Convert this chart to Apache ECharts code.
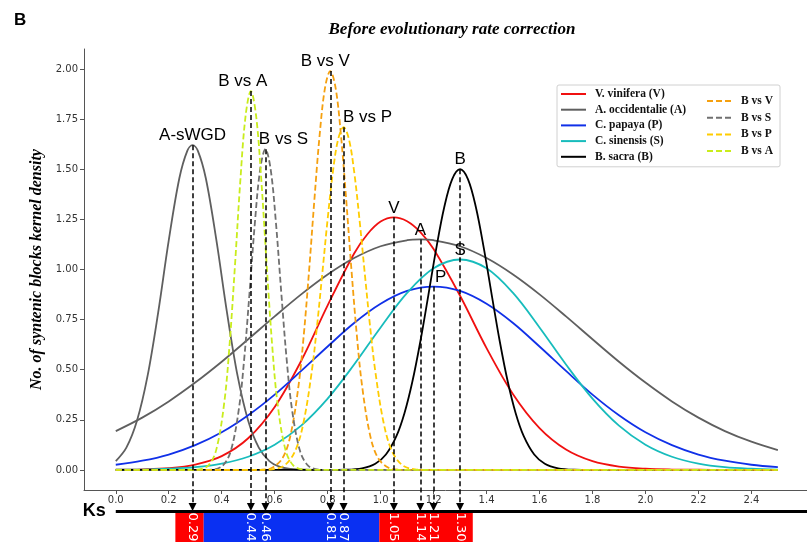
<!DOCTYPE html>
<html>
<head>
<meta charset="utf-8">
<script src="https://cdn.jsdelivr.net/npm/echarts@6/dist/echarts.min.js"></script>
<style>
    html, body { margin: 0; padding: 0; background: #fff; }
    #chart { width: 807px; height: 542px; }
</style>
</head>
<body>
<div id="chart"></div>
<script>

// ===== DATA =====
const xTicks = [0, 0.2, 0.4, 0.6, 0.8, 1.0, 1.2, 1.4, 1.6, 1.8, 2.0, 2.2, 2.4];
const yTicks = [0, 0.25, 0.5, 0.75, 1.0, 1.25, 1.5, 1.75, 2.0];

const vinifera = [[0,0.001],[0.1,0.003],[0.2,0.009],[0.3,0.027],[0.4,0.069],[0.5,0.158],[0.6,0.314],[0.7,0.544],[0.8,0.821],[0.9,1.080],[0.95,1.176],[1.0,1.239],[1.05,1.26],[1.1,1.241],[1.15,1.187],[1.2,1.102],[1.3,0.869],[1.4,0.608],[1.5,0.378],[1.6,0.209],[1.7,0.102],[1.8,0.044],[1.9,0.017],[2.0,0.006],[2.1,0.002],[2.2,0.001],[2.3,0],[2.5,0]];
const occidentalie = [[0,0.194],[0.1,0.261],[0.2,0.342],[0.3,0.436],[0.4,0.540],[0.5,0.652],[0.6,0.766],[0.7,0.876],[0.8,0.975],[0.9,1.057],[1.0,1.116],[1.1,1.146],[1.15,1.15],[1.2,1.146],[1.3,1.116],[1.4,1.057],[1.5,0.975],[1.6,0.876],[1.7,0.766],[1.8,0.652],[1.9,0.540],[2.0,0.436],[2.1,0.342],[2.2,0.261],[2.3,0.194],[2.4,0.141],[2.5,0.099]];
const papaya = [[0,0.026],[0.1,0.046],[0.2,0.077],[0.3,0.124],[0.4,0.188],[0.5,0.273],[0.6,0.376],[0.7,0.494],[0.8,0.616],[0.9,0.733],[1.0,0.829],[1.1,0.893],[1.2,0.915],[1.3,0.893],[1.4,0.829],[1.5,0.733],[1.6,0.616],[1.7,0.494],[1.8,0.376],[1.9,0.273],[2.0,0.188],[2.1,0.124],[2.2,0.077],[2.3,0.046],[2.4,0.026],[2.5,0.014]];
const sinensis = [[0,0.001],[0.1,0.002],[0.2,0.006],[0.3,0.014],[0.4,0.032],[0.5,0.066],[0.6,0.126],[0.7,0.221],[0.8,0.356],[0.9,0.526],[1.0,0.711],[1.1,0.883],[1.2,1.006],[1.3,1.05],[1.4,1.006],[1.5,0.883],[1.6,0.711],[1.7,0.526],[1.8,0.356],[1.9,0.221],[2.0,0.126],[2.1,0.066],[2.2,0.032],[2.3,0.014],[2.4,0.006],[2.5,0.002]];
const sacra = [[0,0],[0.8,0],[0.87,0.001],[0.93,0.008],[0.98,0.031],[1.02,0.077],[1.06,0.17],[1.09,0.283],[1.12,0.441],[1.15,0.641],[1.18,0.87],[1.21,1.104],[1.24,1.309],[1.27,1.45],[1.30,1.50],[1.33,1.45],[1.36,1.309],[1.39,1.104],[1.42,0.87],[1.45,0.641],[1.48,0.441],[1.51,0.283],[1.54,0.17],[1.58,0.077],[1.62,0.031],[1.67,0.008],[1.73,0.001],[1.8,0],[2.5,0]];
const aSWGD = [[0,0.044],[0.04,0.111],[0.08,0.245],[0.12,0.469],[0.16,0.785],[0.2,1.145],[0.24,1.455],[0.27,1.592],[0.29,1.62],[0.31,1.592],[0.34,1.455],[0.38,1.145],[0.42,0.785],[0.46,0.469],[0.5,0.245],[0.54,0.111],[0.58,0.044],[0.62,0.015],[0.66,0.005],[0.72,0.001],[0.8,0],[2.5,0]];

const bVsV = [[0,0],[0.5,0],[0.55,0.001],[0.59,0.011],[0.63,0.06],[0.66,0.175],[0.69,0.42],[0.71,0.675],[0.73,0.996],[0.75,1.349],[0.77,1.674],[0.79,1.906],[0.81,1.99],[0.83,1.906],[0.85,1.674],[0.87,1.349],[0.89,0.996],[0.91,0.675],[0.93,0.42],[0.96,0.175],[0.99,0.06],[1.03,0.011],[1.07,0.001],[1.12,0],[2.5,0]];
const bVsS = [[0,0],[0.3,0],[0.365,0.002],[0.405,0.023],[0.435,0.098],[0.465,0.306],[0.485,0.555],[0.505,0.883],[0.525,1.229],[0.545,1.498],[0.565,1.6],[0.585,1.498],[0.605,1.229],[0.625,0.883],[0.645,0.555],[0.665,0.306],[0.695,0.098],[0.725,0.023],[0.765,0.002],[0.82,0],[2.5,0]];
const bVsP = [[0,0],[0.53,0],[0.59,0.003],[0.64,0.026],[0.68,0.103],[0.71,0.244],[0.74,0.491],[0.76,0.719],[0.78,0.983],[0.8,1.252],[0.82,1.489],[0.84,1.652],[0.86,1.71],[0.88,1.652],[0.9,1.489],[0.92,1.252],[0.94,0.983],[0.96,0.719],[0.98,0.491],[1.01,0.244],[1.04,0.103],[1.08,0.026],[1.13,0.003],[1.19,0],[2.5,0]];
const bVsA = [[0,0],[0.25,0],[0.31,0.002],[0.35,0.023],[0.38,0.104],[0.41,0.34],[0.43,0.631],[0.45,1.019],[0.47,1.437],[0.49,1.765],[0.51,1.89],[0.53,1.765],[0.55,1.437],[0.57,1.019],[0.59,0.631],[0.61,0.34],[0.64,0.104],[0.67,0.023],[0.71,0.002],[0.77,0],[2.5,0]];

// peak labels
const peakNames = ['A-sWGD', 'B vs A', 'B vs S', 'B vs V', 'B vs P', 'V', 'A', 'P', 'S', 'B'];
const peakX = [0.29, 0.51, 0.565, 0.81, 0.86, 1.05, 1.15, 1.20, 1.30, 1.30];
const peakY = [1.62, 1.89, 1.60, 1.99, 1.71, 1.26, 1.15, 0.915, 1.05, 1.50];

// Ks arrows + values on the bar
const ksX = [0.29, 0.51, 0.565, 0.81, 0.86, 1.05, 1.15, 1.20, 1.30];
const ksTop = [1.62, 1.89, 1.60, 1.99, 1.71, 1.26, 1.15, 0.915, 1.50];
const ksLabels = ['0.29', '0.44', '0.46', '0.81', '0.87', '1.05', '1.14', '1.21', '1.30'];
const barStart = [0.225, 0.332, 0.995];
const barEnd = [0.332, 0.995, 1.348];

const legendSolid = ['V. vinifera (V)', 'A. occidentalie (A)', 'C. papaya (P)', 'C. sinensis (S)', 'B. sacra (B)'];
const legendDashed = ['B vs V', 'B vs S', 'B vs P', 'B vs A'];

// ===== STYLE =====
const barColors = ['#fe0000', '#0a30f2', '#fe0000'];
const labelShift = { 'B vs A': -8, 'B vs S': 18, 'B vs V': -5, 'B vs P': 24, 'P': 7 };
const ksY = -0.205;      // thick Ks line (overlay grid units)
const arrowEnd = -0.185;
const barTop = -0.215, barBottom = -0.36;

function curve(name, data, color, dashed) {
    return {
        name: name,
        type: 'line',
        data: data,
        xAxisIndex: 0,
        yAxisIndex: 0,
        smooth: 0.35,
        symbol: 'none',
        silent: true,
        lineStyle: { color: color, width: 1.8, type: dashed ? [6, 3] : 'solid' },
        itemStyle: { color: color },
        z: dashed ? 3 : 2
    };
}

let chart = echarts.init(document.getElementById('chart'));

let axisFont = { color: '#333', fontSize: 10, fontFamily: 'DejaVu Sans' };
let legendText = { fontFamily: 'Liberation Serif', fontWeight: 'bold', fontSize: 11.5, lineHeight: 14, color: '#111', padding: [0, 0, 0, 4] };

chart.setOption({
    animation: false,
    backgroundColor: '#fff',
    title: [
        { text: 'B', left: 9, top: 7, textStyle: { fontSize: 17, fontWeight: 'bold', fontFamily: 'Liberation Sans', color: '#000' } },
        {
            text: 'Before evolutionary rate correction', left: 447, top: 16, textAlign: 'center',
            textStyle: { fontFamily: 'Liberation Serif', fontStyle: 'italic', fontWeight: 'bold', fontSize: 17, color: '#000' }
        }
    ],
    legend: [
        {
            data: legendSolid, orient: 'vertical', left: 557, top: 85,
            padding: [2, 94, 3, 3], itemGap: 1.7, itemWidth: 25, itemHeight: 4,
            borderColor: '#d0d0d0', borderWidth: 1, borderRadius: 2,
            selectedMode: false,
            itemStyle: { opacity: 0 },
            textStyle: legendText
        },
        {
            data: legendDashed, orient: 'vertical', left: 706, top: 94,
            padding: 0, itemGap: 2.7, itemWidth: 25, itemHeight: 4,
            selectedMode: false,
            itemStyle: { opacity: 0 },
            textStyle: legendText
        }
    ],
    grid: [
        { left: 84, right: 0, top: 49, bottom: 52 },
        { left: 84, right: 0, top: 49, bottom: 0 }
    ],
    xAxis: [
        {
            type: 'value', gridIndex: 0, min: -0.12, max: 2.61,
            splitLine: { show: false },
            axisLine: { onZero: false, lineStyle: { color: '#555', width: 1 } },
            axisTick: { customValues: xTicks, length: 4, lineStyle: { color: '#555' } },
            axisLabel: Object.assign({ customValues: xTicks, margin: 5, formatter: v => v.toFixed(1) }, axisFont)
        },
        { type: 'value', gridIndex: 1, min: -0.12, max: 2.61, show: false }
    ],
    yAxis: [
        {
            type: 'value', gridIndex: 0, min: -0.1, max: 2.1,
            name: 'No. of syntenic blocks kernel density',
            nameLocation: 'middle', nameGap: 31,
            nameTextStyle: { fontFamily: 'Liberation Serif', fontStyle: 'italic', fontWeight: 'bold', fontSize: 16, color: '#000' },
            splitLine: { show: false },
            axisLine: { show: true, onZero: false, lineStyle: { color: '#555', width: 1 } },
            axisTick: { show: true, customValues: yTicks, length: 4, lineStyle: { color: '#555' } },
            axisLabel: Object.assign({ customValues: yTicks, margin: 6, formatter: v => v.toFixed(2) }, axisFont)
        },
        { type: 'value', gridIndex: 1, min: -0.36, max: 2.1, show: false }
    ],
    series: [
        curve('V. vinifera (V)', vinifera, '#f01010', false),
        curve('A. occidentalie (A)', occidentalie, '#5f5f5f', false),
        curve('A-sWGD', aSWGD, '#5f5f5f', false),
        curve('C. papaya (P)', papaya, '#1030e8', false),
        curve('C. sinensis (S)', sinensis, '#17bcbc', false),
        curve('B. sacra (B)', sacra, '#000000', false),
        curve('B vs V', bVsV, '#f5a00f', true),
        curve('B vs S', bVsS, '#707070', true),
        curve('B vs P', bVsP, '#ffcc00', true),
        curve('B vs A', bVsA, '#c9ec1c', true),

        // peak names
        {
            type: 'scatter',
            xAxisIndex: 0, yAxisIndex: 0,
            symbolSize: 0, silent: true, z: 5,
            itemStyle: { opacity: 1 },
            data: peakNames.map((n, i) => ({
                value: [peakX[i], peakY[i]],
                label: { offset: [labelShift[n] || 0, 0] }
            })),
            label: {
                show: true, position: 'top', distance: 1,
                formatter: p => peakNames[p.dataIndex],
                fontFamily: 'Liberation Sans', fontSize: 17, color: '#000'
            }
        },

        // Ks line, arrows, coloured bar and its values
        {
            type: 'scatter',
            xAxisIndex: 1, yAxisIndex: 1,
            symbolSize: 0, silent: true, z: 6,
            itemStyle: { opacity: 1 },
            data: ksX.map(x => [x, barTop + 0.002]),
            label: {
                show: true, position: 'inside', rotate: -90, align: 'left', verticalAlign: 'middle',
                formatter: p => ksLabels[p.dataIndex],
                fontFamily: 'DejaVu Sans', fontSize: 13, color: '#fff'
            },
            markLine: {
                silent: true,
                symbol: ['none', 'triangle'],
                symbolSize: 8,
                label: { show: false },
                lineStyle: { color: '#000', type: [5, 3], width: 1.5 },
                data: ksX.map((x, i) => [{ coord: [x, ksTop[i]] }, { coord: [x, arrowEnd] }]).concat([[
                    {
                        coord: [0, ksY], symbol: 'none',
                        lineStyle: { type: 'solid', width: 3, color: '#000' },
                        label: { show: true, position: 'start', formatter: 'Ks', distance: 10, fontFamily: 'Liberation Sans', fontWeight: 'bold', fontSize: 18, color: '#000' }
                    },
                    { coord: [2.61, ksY], symbol: 'none' }
                ]])
            },
            markArea: {
                silent: true,
                data: barStart.map((s, i) => [
                    { coord: [s, barTop], itemStyle: { color: barColors[i], opacity: 1 } },
                    { coord: [barEnd[i], barBottom] }
                ])
            }
        }
    ]
});

</script>
</body>
</html>
